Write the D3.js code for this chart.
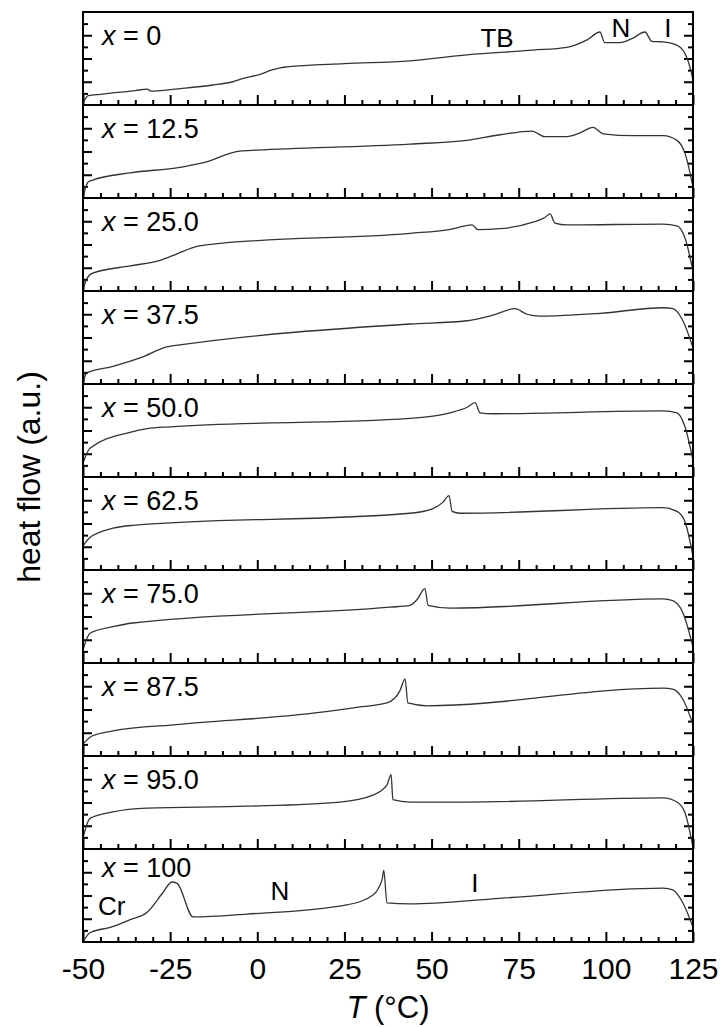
<!DOCTYPE html>
<html>
<head>
<meta charset="utf-8">
<script src="https://cdn.jsdelivr.net/npm/d3@7"></script>
<style>
  body { margin: 0; background: #fff; }
  svg { display: block; font-family: "Liberation Sans", Arial, sans-serif; }
</style>
</head>
<body>
<div id="chart"></div>
<script>
//DATA: composition labels, temperature ticks and one DSC trace per panel ([T in °C, heat flow a.u.])
var compositions = ["0", "12.5", "25.0", "37.5", "50.0", "62.5", "75.0", "87.5", "95.0", "100"];
var tempTicks = [-50, -25, 0, 25, 50, 75, 100, 125];

var trace000 = [[-50,0.2],[-48.5,1.0],[-45,1.15],[-40,1.35],[-35,1.55],[-31.6,1.7],[-30.5,1.5],[-25,1.65],[-20,1.85],[-12.7,2.15],[-7,2.5],[-4,2.85],[0.8,3.3],[4,3.75],[6.5,4.0],[8.5,4.1],[25,4.45],[43.8,4.75],[60.2,5.4],[79.1,5.9],[88.8,6.2],[94.6,7.0],[98.3,7.85],[99.7,6.7],[104,6.7],[107.8,7.2],[111.2,7.85],[113.2,6.85],[116,6.8],[119.2,6.6],[122.1,5.9],[124.1,4.1],[125,2.7]];
var trace125 = [[-50,0.1],[-48.6,1.7],[-47.4,1.9],[-36.5,2.7],[-22.2,3.3],[-14.4,3.9],[-8.7,4.7],[-5,5.05],[0,5.15],[43.8,5.8],[60.2,6.2],[69.6,6.8],[78.8,7.2],[82.5,6.6],[88.8,6.6],[92.6,7.0],[96.3,7.6],[99.2,6.9],[107.8,6.7],[116.4,6.7],[120.4,6.2],[122.7,4.8],[125,1.2]];
var trace250 = [[-50,0.2],[-48.9,1.3],[-47.4,1.9],[-36.5,2.7],[-27.9,3.3],[-23,4.0],[-17.3,4.8],[-12.7,5.05],[43.8,6.2],[55,6.6],[61.6,7.1],[63.3,6.6],[69.6,6.7],[79.1,7.4],[82.5,7.9],[84,8.3],[85.4,7.3],[88.8,7.1],[116.4,7.2],[120.4,7.0],[122.7,5.7],[125,2.15]];
var trace375 = [[-50,0.1],[-48.9,1.2],[-41.4,1.9],[-33.6,2.8],[-25.9,4.0],[-22.2,4.2],[43.8,6.45],[60.2,6.8],[67.6,7.4],[73.9,8.1],[77.4,7.5],[81.1,7.3],[98.3,7.6],[116.4,8.2],[119.2,8.1],[122.1,6.8],[125,3.9]];
var trace500 = [[-50,1.5],[-48,3.1],[-36.5,4.8],[-31.6,5.2],[-25,5.4],[43.8,6.3],[55.3,6.9],[60.2,7.5],[62.5,8.0],[63.9,6.9],[67.6,6.8],[116.4,7.1],[120.4,6.9],[122.7,5.4],[125,1.8]];
var trace625 = [[-50,2.6],[-48,3.5],[-41.4,4.5],[-35.7,4.8],[43.8,6.1],[50.4,6.6],[53.3,7.3],[55,8.0],[55.9,6.3],[58.2,6.1],[116.4,6.7],[120.4,6.3],[122.7,5.2],[125,1.5]];
var trace750 = [[-50,1.4],[-48,3.2],[-41.4,3.9],[-35.7,4.3],[38,6.0],[43.8,6.2],[45.8,6.8],[48.1,8.0],[49,6.2],[55.3,5.9],[116.4,6.9],[119.2,6.7],[122.1,5.4],[125,1.7]];
var trace875 = [[-50,1.3],[-47.4,2.15],[-41.4,2.7],[-22.2,3.4],[16,4.6],[30,5.3],[37.2,5.7],[40.9,7.0],[42.4,8.3],[43.2,5.7],[48.7,5.4],[116.4,7.3],[119.2,7.2],[122.1,6.1],[125,3.4]];
var trace950 = [[-50,1.2],[-48,3.3],[-41.4,4.0],[-31.6,4.4],[-3,4.6],[23.7,5.05],[33.2,5.8],[37.2,6.9],[38.4,8.0],[38.9,5.3],[43.8,5.05],[60.2,5.05],[116.4,5.5],[120.4,5.05],[122.7,3.9],[125,0.2]];
var trace1000 = [[-50,0],[-48,1.0],[-42,1.6],[-36.5,2.4],[-31.6,3.2],[-27.1,5.3],[-24.5,6.45],[-23,6.3],[-18.4,2.7],[-3,3.0],[25.7,4.0],[33.2,5.05],[35.8,6.7],[36.3,7.7],[37.2,4.2],[43.8,4.1],[69.6,4.7],[116.4,5.8],[119.2,5.6],[122.1,4.2],[125,1.6]];

var traces = [trace000, trace125, trace250, trace375, trace500, trace625, trace750, trace875, trace950, trace1000];

//phase labels: [panel index, T, heat flow, text, anchor]
var phaseLabels = [
  [0, 68.8, 6.25, "TB", "middle"],
  [0, 104.3, 7.3, "N", "middle"],
  [0, 117.8, 7.3, "I", "middle"],
  [9, -45.7, 2.9, "Cr", "start"],
  [9, 6.5, 4.5, "N", "middle"],
  [9, 62.4, 5.4, "I", "middle"]
];

//CANVAS
var svgWidth = 725;
var svgHeight = 1027;
var margin = { top: 12, left: 83, right: 32, bottom: 85 };
var chartWidth = svgWidth - margin.left - margin.right;
var chartHeight = svgHeight - margin.top - margin.bottom;
var panelHeight = chartHeight / compositions.length;

var svg = d3.select("#chart").append("svg")
  .attr("width", svgWidth)
  .attr("height", svgHeight);

var xScale = d3.scaleLinear()
  .domain([-50, 125])
  .range([margin.left, margin.left + chartWidth]);

var minorT = d3.range(-50, 126, 5).filter(function(t) { return t % 25 !== 0; });
var line = d3.line().curve(d3.curveMonotoneX);

function styleTicks(g) {
  g.select(".domain").remove();
  g.selectAll(".tick line").attr("stroke", "#000").attr("stroke-width", 2);
}

compositions.forEach(function(comp, i) {
  var top = margin.top + i * panelHeight;
  var bottom = top + panelHeight;
  var yScale = d3.scaleLinear().domain([0, 10]).range([bottom, top]);
  var panel = svg.append("g");

  //inward ticks on bottom, left and right
  panel.append("g").attr("transform", `translate(0,${bottom})`)
    .call(d3.axisBottom(xScale).tickValues(minorT).tickSize(-5).tickFormat("")).call(styleTicks);
  panel.append("g").attr("transform", `translate(0,${bottom})`)
    .call(d3.axisBottom(xScale).tickValues(tempTicks).tickSize(-10).tickFormat("")).call(styleTicks);
  [[d3.axisLeft, margin.left], [d3.axisRight, margin.left + chartWidth]].forEach(function(a) {
    panel.append("g").attr("transform", `translate(${a[1]},0)`)
      .call(a[0](yScale).tickValues([1.25, 3.75, 6.25, 8.75]).tickSize(-5).tickFormat("")).call(styleTicks);
    panel.append("g").attr("transform", `translate(${a[1]},0)`)
      .call(a[0](yScale).tickValues([2.5, 5, 7.5]).tickSize(-9).tickFormat("")).call(styleTicks);
  });

  //trace
  line.x(function(d) { return xScale(d[0]); }).y(function(d) { return yScale(d[1]); });
  panel.append("path")
    .datum(traces[i])
    .attr("d", line)
    .attr("fill", "none")
    .attr("stroke", "#333")
    .attr("stroke-width", 1.3);

  //frame
  panel.append("rect")
    .attr("x", margin.left).attr("y", top)
    .attr("width", chartWidth).attr("height", panelHeight)
    .attr("fill", "none").attr("stroke", "#000").attr("stroke-width", 2);

  //composition label
  var lab = panel.append("text")
    .attr("x", margin.left + 19)
    .attr("y", top + (i === compositions.length - 1 ? 28 : 33))
    .attr("font-size", 27);
  lab.append("tspan").attr("font-style", "italic").text("x");
  lab.append("tspan").text(" = " + comp);

  phaseLabels.filter(function(p) { return p[0] === i; }).forEach(function(p) {
    panel.append("text")
      .attr("x", xScale(p[1]))
      .attr("y", yScale(p[2]))
      .attr("text-anchor", p[4])
      .attr("font-size", 26)
      .text(p[3]);
  });
});

//bottom tick labels (plain hyphen for negatives, as in the original)
var chartBottom = margin.top + chartHeight;
svg.append("g")
  .attr("transform", `translate(0,${chartBottom})`)
  .call(d3.axisBottom(xScale).tickValues(tempTicks).tickSize(0).tickPadding(16)
    .tickFormat(function(d) { return String(d); }))
  .call(function(g) {
    g.select(".domain").remove();
    g.selectAll("text").attr("font-size", 30).attr("font-family", "Liberation Sans, Arial, sans-serif").attr("fill", "#000");
  });

//axis titles
var xTitle = svg.append("text")
  .attr("x", margin.left + chartWidth / 2)
  .attr("y", 1018)
  .attr("text-anchor", "middle")
  .attr("font-size", 31);
xTitle.append("tspan").attr("font-style", "italic").text("T");
xTitle.append("tspan").text(" (°C)");

svg.append("text")
  .attr("transform", "rotate(-90)")
  .attr("x", -(margin.top + chartHeight / 2))
  .attr("y", 40)
  .attr("text-anchor", "middle")
  .attr("font-size", 32)
  .text("heat flow (a.u.)");
</script>
</body>
</html>
